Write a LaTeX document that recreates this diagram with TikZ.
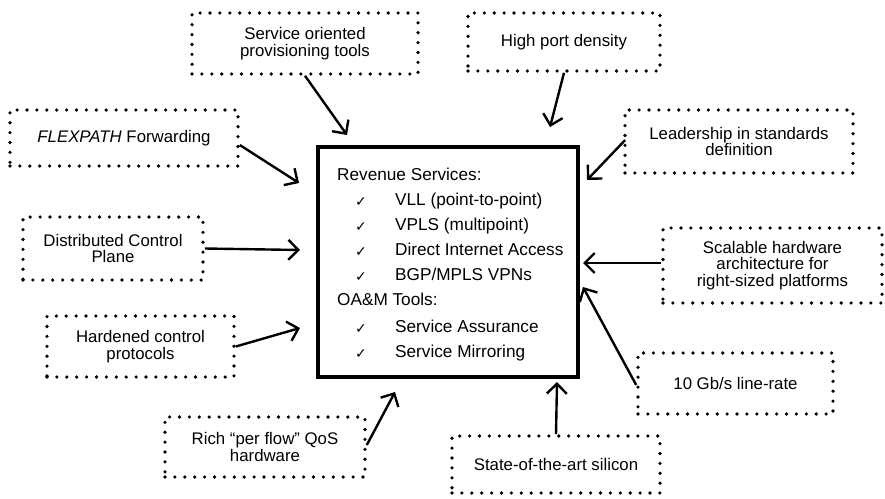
\documentclass[tikz,border=0pt]{standalone}
\usepackage{fontspec}
\setmainfont{Liberation Sans}
\newfontfamily\symfont{DejaVu Sans}
\usetikzlibrary{arrows.meta}
\tikzset{
  feature/.style={draw, dash pattern=on 0pt off 9.9pt, line cap=round,
    line width=3.6pt, align=center, inner sep=0pt,
    font=\fontsize{16.8}{16.5}\selectfont},
  arr/.style={line width=2.4pt, -{Straight Barb[length=10pt,width=20pt,line width=2.4pt]}},
  coretxt/.style={anchor=base west, inner sep=0pt, font=\fontsize{17.2}{18}\selectfont},
  tick/.style={anchor=base west, inner sep=0pt, font=\symfont\fontsize{14}{14}\selectfont}
}
\begin{document}
\begin{tikzpicture}[x=1pt,y=-1pt]
\useasboundingbox (0,0) rectangle (885,498);
\fill[white] (0,0) rectangle (885,498);

% central box with the service list
\node[draw, line width=3.6pt, minimum width=260pt, minimum height=230pt, inner sep=0pt] (core) at (448,262) {};
\node[coretxt] (rs) at (337,180) {Revenue Services:};
\node[tick] (c1) at (355,206) {✓};
\node[coretxt] (l1) at (395,205) {VLL (point-to-point)};
\node[tick] (c2) at (355,231) {✓};
\node[coretxt] (l2) at (395,230) {VPLS (multipoint)};
\node[tick] (c3) at (355,256) {✓};
\node[coretxt] (l3) at (395,255) {Direct Internet Access};
\node[tick] (c4) at (355,281) {✓};
\node[coretxt] (l4) at (395,280) {BGP/MPLS VPNs};
\node[coretxt] (oam) at (337,305) {OA\&M Tools:};
\node[tick] (c5) at (355,333) {✓};
\node[coretxt] (l5) at (395,332) {Service Assurance};
\node[tick] (c6) at (355,358) {✓};
\node[coretxt] (l6) at (395,357) {Service Mirroring};

% surrounding feature boxes
\node[feature, minimum width=226pt, minimum height=61pt] (sop) at (305,43.5) {Service oriented\\provisioning tools};
\node[feature, minimum width=192pt, minimum height=58pt] (hpd) at (564,42) {High port density};
\node[feature, minimum width=228pt, minimum height=56pt] (flex) at (124,138) {\textit{FLEXPATH} Forwarding};
\node[feature, minimum width=180pt, minimum height=63pt] (dcp) at (113,248.5) {Distributed Control\\Plane};
\node[feature, minimum width=187pt, minimum height=61pt] (hcp) at (140.5,346.5) {Hardened control\\protocols};
\node[feature, minimum width=200pt, minimum height=60pt] (rich) at (265,447) {Rich “per flow” QoS\\hardware};
\node[feature, minimum width=208pt, minimum height=57pt] (sas) at (556,464.5) {State-of-the-art silicon};
\node[feature, minimum width=195pt, minimum height=61pt] (gb) at (735.5,383.5) {10 Gb/s line-rate};
\node[feature, minimum width=219pt, minimum height=75pt] (scal) at (772.5,265.5) {Scalable hardware\\architecture for\\right-sized platforms};
\node[feature, minimum width=228pt, minimum height=63pt] (lead) at (739,141.5) {Leadership in standards\\definition};

% arrow tips around the central box
\coordinate (t1) at (347,135);
\coordinate (t2) at (550,127);
\coordinate (t3) at (299,183);
\coordinate (t4) at (300,250);
\coordinate (t5) at (300,328);
\coordinate (t6) at (395,392);
\coordinate (t7) at (557,382);
\coordinate (t8) at (583,287);
\coordinate (t9) at (583,263);
\coordinate (t10) at (587,180);

\draw[arr] (sop.south) -- (t1);
\draw[arr] (hpd.south) -- (t2);
\draw[arr] ([yshift=-7pt]flex.east) -- (t3);
\draw[arr] (dcp.east) -- (t4);
\draw[arr] (hcp.east) -- (t5);
\draw[arr] ([yshift=2pt]rich.east) -- (t6);
\draw[arr] (sas.north) -- (t7);
\draw[arr] ([yshift=-1.5pt]gb.west) -- (t8);
\draw[arr] ([yshift=2.5pt]scal.west) -- (t9);
\draw[arr] ([xshift=2pt,yshift=1.5pt]lead.west) -- (t10);
\end{tikzpicture}
\end{document}
